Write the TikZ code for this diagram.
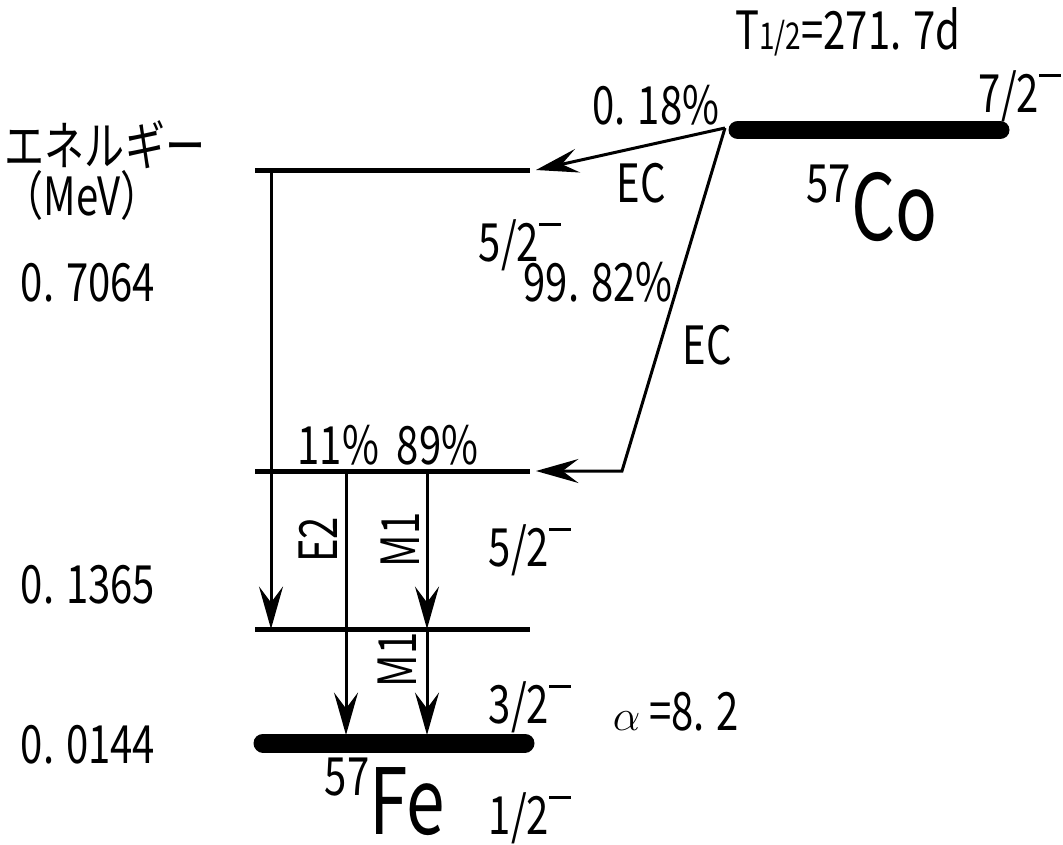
\documentclass[tikz,border=0pt]{standalone}
\usepackage{fontspec}
\newfontfamily\jpfont[FakeStretch=0.76]{Noto Sans CJK JP}
\usetikzlibrary{arrows.meta}
\newcommand\partop{\rule[0.66em]{0.42em}{0.06em}}

\begin{document}
\begin{tikzpicture}[x=0.02cm, y=-0.02cm,
  lev/.style={line width=0.1cm},
  gnd/.style={line width=0.38cm, line cap=round},
  tr/.style={-{Stealth[length=0.85cm, width=0.48cm, inset=0.32cm]}, line width=0.06cm},
  lbl/.style={font=\jpfont\fontsize{30}{32}\selectfont, inner sep=0pt},
  big/.style={font=\jpfont\fontsize{52}{56}\selectfont, inner sep=0pt}
]
  \useasboundingbox (0,0) rectangle (1063,845);

  % 57Co
  \coordinate (CoL) at (738,130);
  \coordinate (CoR) at (1000,130);
  \coordinate (CoS) at (725,128);
  \draw[gnd] (CoL) -- (CoR);
  \node[lbl] (thalf) at (848,32) {T{\fontsize{21}{22}\selectfont 1/2}=271. 7d};
  \node[lbl] (spCo) at (1020,96) {7/2\partop};
  \node[big] (Co) at (872,203) {\raisebox{0.42em}{\fontsize{30}{32}\selectfont 57}Co};

  % 57Fe levels
  \coordinate (L7a) at (255,170);
  \coordinate (L7b) at (530,170);
  \coordinate (L1a) at (255,471);
  \coordinate (L1b) at (530,471);
  \coordinate (L0a) at (255,629);
  \coordinate (L0b) at (530,629);
  \coordinate (Ga) at (263,743);
  \coordinate (Gb) at (525,743);
  \draw[lev] (L7a) -- (L7b);
  \draw[lev] (L1a) -- (L1b);
  \draw[lev] (L0a) -- (L0b);
  \draw[gnd] (Ga) -- (Gb);

  % EC branches
  \coordinate (T7) at (536,170);
  \coordinate (knee) at (622,471);
  \coordinate (T1) at (536,471);
  \draw[tr] (CoS) -- (T7);
  \draw[tr, line join=miter] (CoS) -- (knee) -- (T1);
  \node[lbl] (p018) at (656,105) {0. 18\%};
  \node[lbl] (ec1) at (641,183) {EC};
  \node[lbl] (p9982) at (598,282) {99. 82\%};
  \node[lbl] (ec2) at (707,345) {EC};

  % gamma transitions
  \coordinate (g7s) at (271,170);
  \coordinate (g7e) at (271,629);
  \coordinate (e2s) at (346,471);
  \coordinate (e2e) at (346,735);
  \coordinate (m1s) at (427,471);
  \coordinate (m1m) at (427,629);
  \coordinate (m1e) at (427,735);
  \draw[tr] (g7s) -- (g7e);
  \draw[tr] (e2s) -- (e2e);
  \draw[tr] (m1s) -- (m1m);
  \draw[tr] (m1m) -- (m1e);
  \node[lbl] (br) at (388,445) {11\%\ \ 89\%};
  \node[lbl, rotate=90] (e2) at (318,540) {E2};
  \node[lbl, rotate=90] (m1a) at (400,540) {M1};
  \node[lbl, rotate=90] (m1b) at (397,660) {M1};

  % energies
  \node[lbl] (axis) at (105,145) {エネルギー};
  \node[lbl] (unit) at (82,195) {（MeV）};
  \node[lbl] (E7) at (88,283) {0. 7064};
  \node[lbl] (E1) at (88,585) {0. 1365};
  \node[lbl] (E0) at (88,745) {0. 0144};

  % spins
  \node[lbl] (sp7) at (520,245) {5/2\partop};
  \node[lbl] (sp1) at (530,550) {5/2\partop};
  \node[lbl] (sp0) at (530,707) {3/2\partop};
  \node[lbl] (alpha) at (676,712) {$\alpha$\,=8. 2};
  \node[lbl] (spg) at (530,818) {1/2\partop};
  \node[big, anchor=base] (Fe) at (385,834) {\raisebox{0.42em}{\fontsize{30}{32}\selectfont 57}Fe};
\end{tikzpicture}
\end{document}
